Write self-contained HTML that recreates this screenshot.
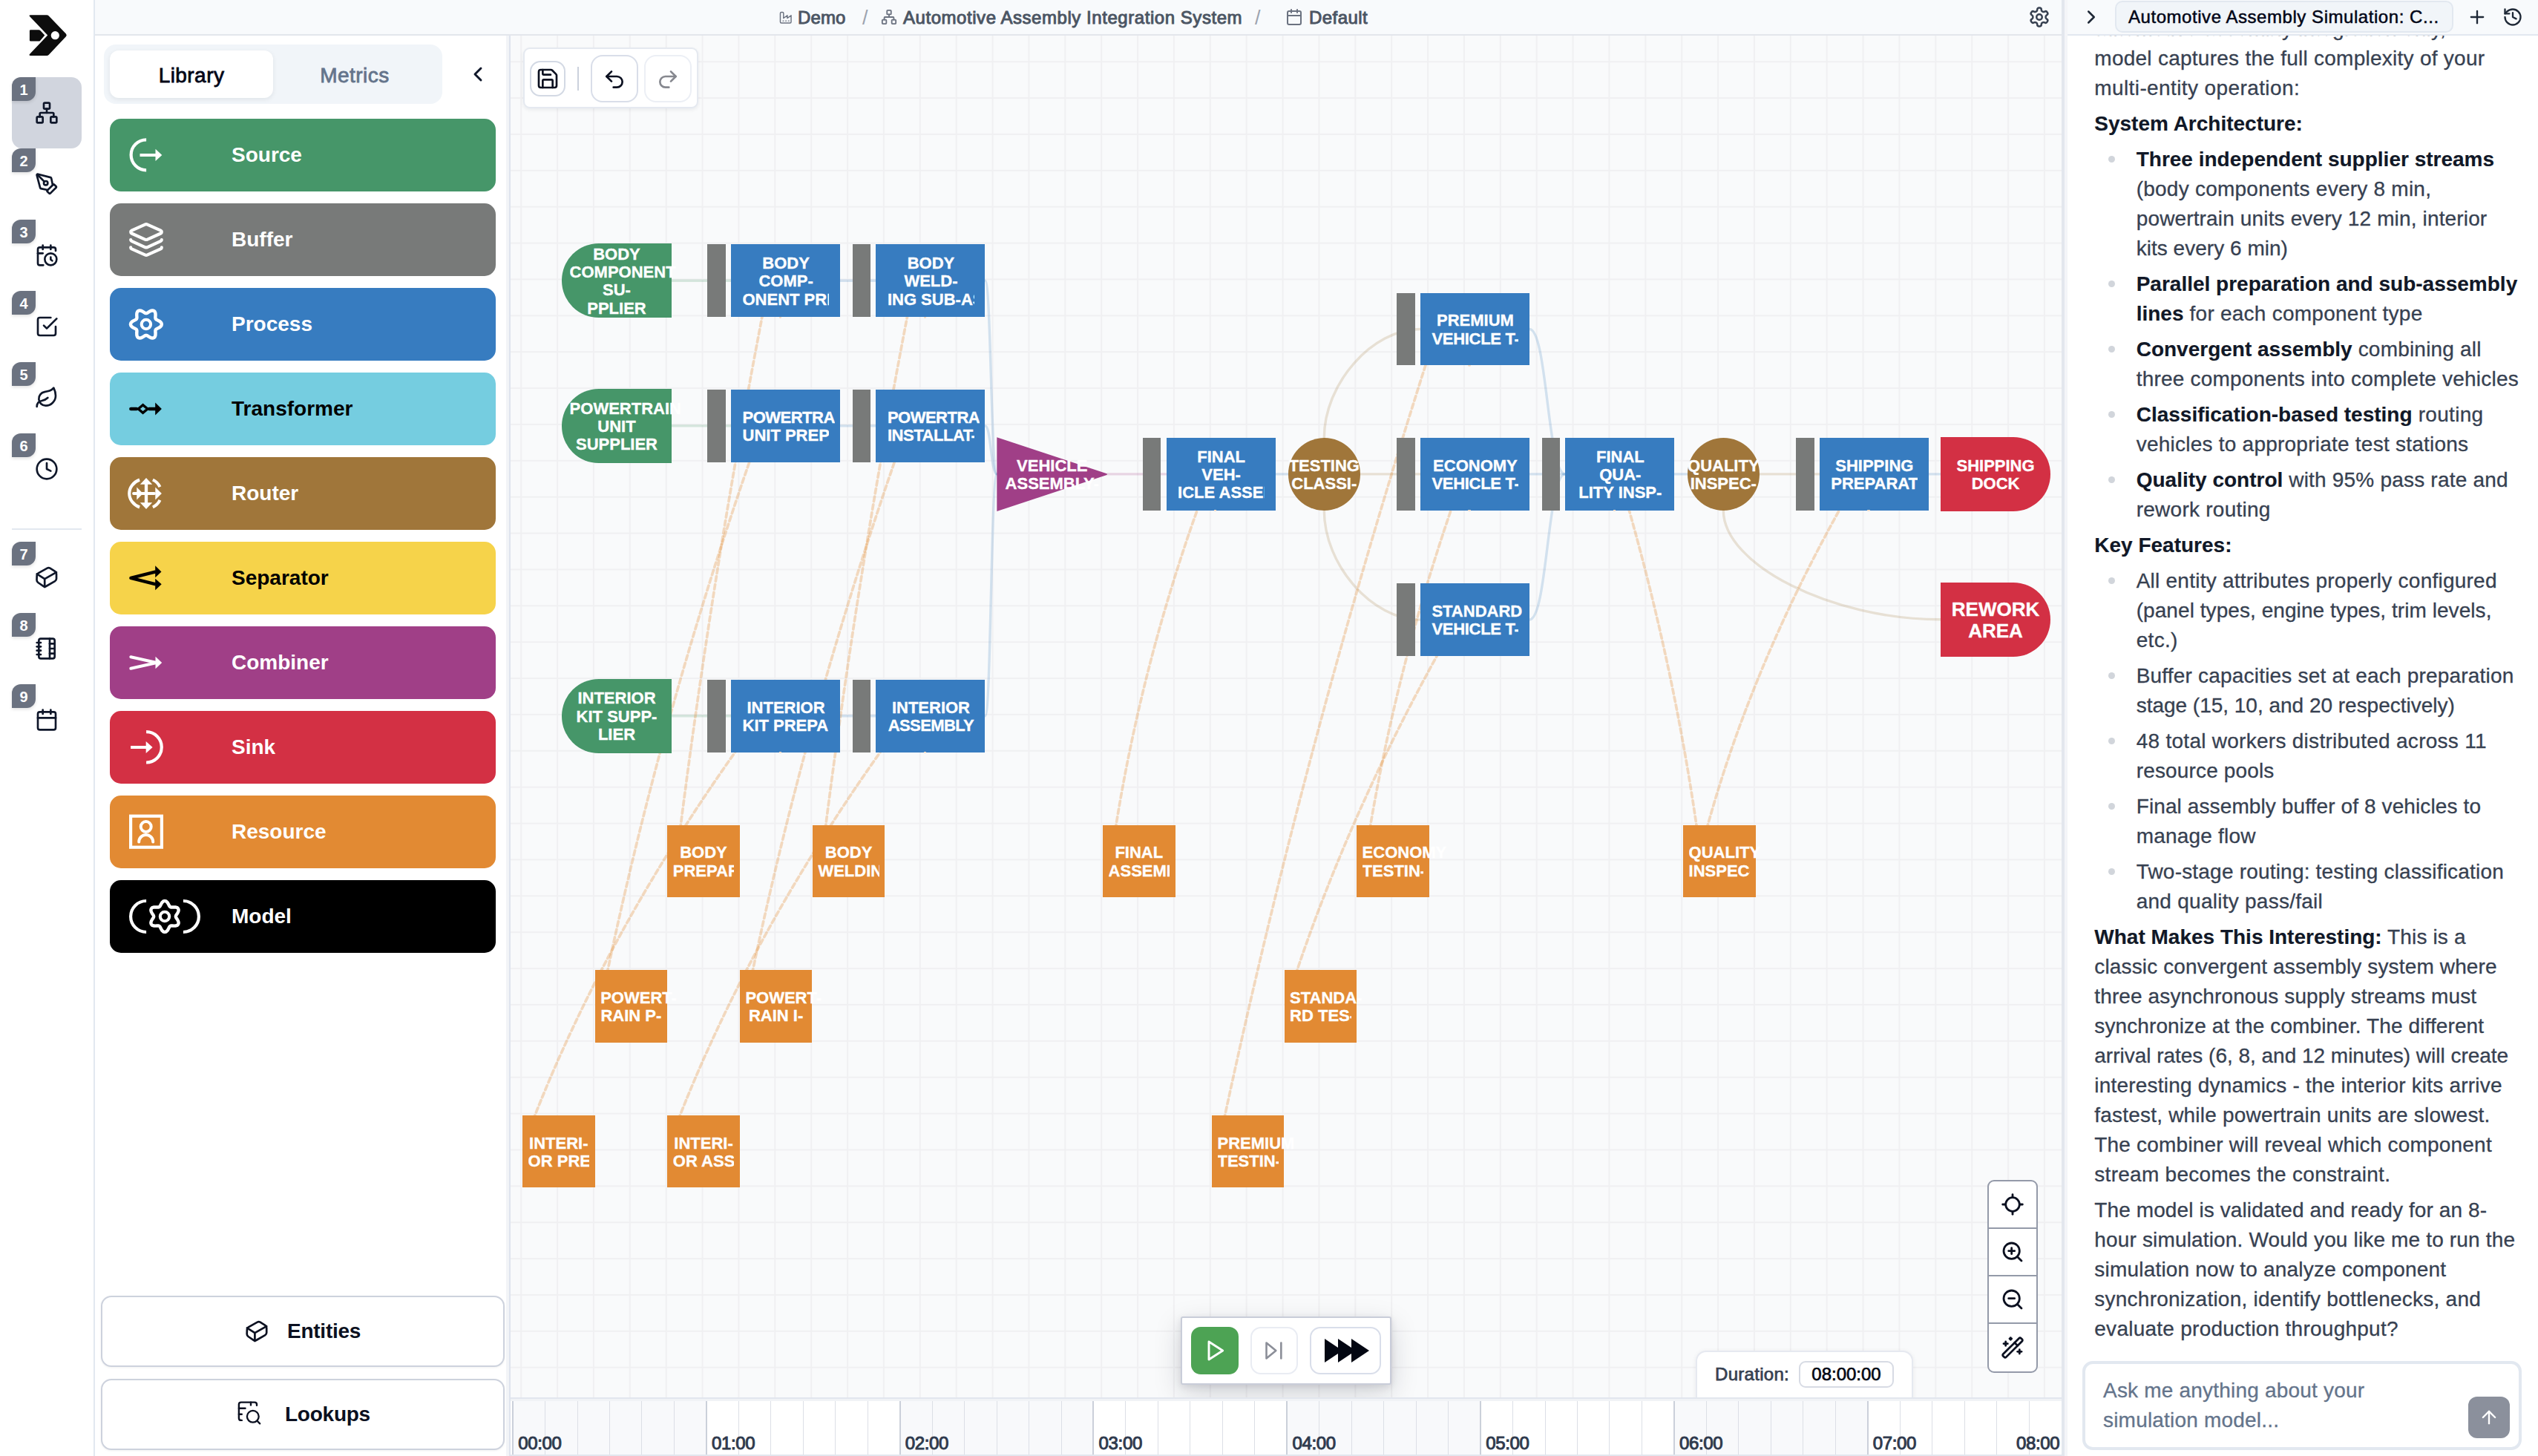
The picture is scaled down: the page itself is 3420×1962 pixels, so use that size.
<!DOCTYPE html>
<html><head><meta charset="utf-8"><title>Simulation</title>
<style>
*{box-sizing:border-box;margin:0;padding:0}
html,body{width:3420px;height:1962px;overflow:hidden;background:#fff}
body{position:relative;font-family:"Liberation Sans", sans-serif;color:#0f172a;-webkit-font-smoothing:antialiased}
.abs{position:absolute}
svg{display:block;overflow:visible}
.ic{position:absolute;fill:none;stroke:currentColor;stroke-width:2;stroke-linecap:round;stroke-linejoin:round}
#nav{position:absolute;left:0;top:0;width:128px;height:1962px;background:#fff;border-right:2px solid #e2e8f0}
.badge{position:absolute;left:16px;width:32px;height:32px;background:#6b7280;color:#fff;font-weight:bold;font-size:20px;line-height:34px;text-align:center;border-radius:12px 0 12px 0;box-shadow:0 2px 4px rgba(0,0,0,.12)}
#hdr{position:absolute;left:128px;top:0;width:3292px;height:48px;background:#f8fafc;border-bottom:2px solid #e3e6ec}
.bc{position:absolute;top:1px;height:46px;line-height:46px;font-size:24px;color:#4b5563;white-space:nowrap;-webkit-text-stroke:0.95px #4b5563}
#lib{position:absolute;left:128px;top:48px;width:556px;height:1914px;background:#fff}
.lbtn{position:absolute;left:148px;width:520px;height:98px;border-radius:15px;color:#fff;font-weight:bold;font-size:28px;line-height:98px}
.lbtn span{position:absolute;left:164px;top:0;white-space:nowrap}
.obtn{position:absolute;left:136px;width:544px;height:96px;border:2px solid #cdd2dd;border-radius:14px;background:#fff;box-shadow:0 1px 3px rgba(0,0,0,.06)}
.obtn span{position:absolute;top:0;line-height:92px;font-size:28px;font-weight:bold;color:#0b1020;white-space:nowrap;letter-spacing:-0.25px}

#cv{position:absolute;left:688px;top:48px;width:2090px;height:1835px;background-color:#f9fafb;
 background-image:linear-gradient(to right,#f0f0f2 2px,transparent 2px),linear-gradient(to bottom,#f0f0f2 2px,transparent 2px);
 background-size:48.889px 48.889px;background-position:13.20px 34.20px;overflow:hidden}
#cvi{position:absolute;left:-688px;top:-48px;width:3420px;height:1962px}
.nt{position:absolute;overflow:hidden;white-space:nowrap;color:#fff;font-weight:bold;text-align:left;-webkit-text-stroke:0.35px #fff}
.nt span{display:inline-block;text-align:center}
.tb{position:absolute;background:#fff}
.tl{position:absolute;top:1931.2px;height:28px;line-height:28px;font-size:24px;letter-spacing:-0.35px;color:#2f3a4d;-webkit-text-stroke:1px #2f3a4d;white-space:nowrap}
#chat{position:absolute;left:2786px;top:48px;width:634px;height:1914px;background:#fff;overflow:hidden}
.cl{position:absolute;height:40px;line-height:40px;font-size:28px;white-space:nowrap;color:#374151;letter-spacing:0.2px;-webkit-text-stroke:0.3px #374151}
.cl b{color:#111827;letter-spacing:0;-webkit-text-stroke:0.15px #111827}
.bul{position:absolute;left:2840.5px;width:9.4px;height:9.4px;border-radius:50%;background:#d1d5db}
</style></head>
<body>
<div id="hdr"></div>
<svg class="ic" style="left:1049.5px;top:14.5px;color:#6b7280;stroke-width:2" width="17.5" height="17.5" viewBox="0 0 24 24" ><path d="M2 20a2 2 0 0 0 2 2h16a2 2 0 0 0 2-2V8l-7 5V8l-7 5V4a2 2 0 0 0-2-2H4a2 2 0 0 0-2 2Z"/><path d="M17 18h1"/><path d="M12 18h1"/><path d="M7 18h1"/></svg>
<div class="bc" style="left:1075px;letter-spacing:0.1px">Demo</div>
<div class="bc" style="left:1162px;color:#9ca3af;-webkit-text-stroke:0;font-size:27px">/</div>
<svg class="ic" style="left:1187px;top:12px;color:#6b7280;stroke-width:2" width="22" height="22" viewBox="0 0 24 24" ><rect x="16" y="16" width="6" height="6" rx="1"/><rect x="2" y="16" width="6" height="6" rx="1"/><rect x="9" y="2" width="6" height="6" rx="1"/><path d="M5 16v-3a1 1 0 0 1 1-1h12a1 1 0 0 1 1 1v3"/><path d="M12 12V8"/></svg>
<div class="bc" style="left:1217px;letter-spacing:0.55px">Automotive Assembly Integration System</div>
<div class="bc" style="left:1691px;color:#9ca3af;-webkit-text-stroke:0;font-size:27px">/</div>
<svg class="ic" style="left:1732px;top:11px;color:#6b7280;stroke-width:2" width="24" height="24" viewBox="0 0 24 24" ><path d="M8 2v4"/><path d="M16 2v4"/><rect width="18" height="18" x="3" y="4" rx="2"/><path d="M3 10h18"/></svg>
<div class="bc" style="left:1764px;letter-spacing:0.45px">Default</div>
<svg class="ic" style="left:2733px;top:8px;color:#374151;stroke-width:2" width="30" height="30" viewBox="0 0 24 24" ><path d="M12.22 2h-.44a2 2 0 0 0-2 2v.18a2 2 0 0 1-1 1.73l-.43.25a2 2 0 0 1-2 0l-.15-.08a2 2 0 0 0-2.73.73l-.22.38a2 2 0 0 0 .73 2.73l.15.1a2 2 0 0 1 1 1.72v.51a2 2 0 0 1-1 1.74l-.15.09a2 2 0 0 0-.73 2.73l.22.38a2 2 0 0 0 2.73.73l.15-.08a2 2 0 0 1 2 0l.43.25a2 2 0 0 1 1 1.73V20a2 2 0 0 0 2 2h.44a2 2 0 0 0 2-2v-.18a2 2 0 0 1 1-1.73l.43-.25a2 2 0 0 1 2 0l.15.08a2 2 0 0 0 2.73-.73l.22-.39a2 2 0 0 0-.73-2.73l-.15-.08a2 2 0 0 1-1-1.74v-.5a2 2 0 0 1 1-1.74l.15-.09a2 2 0 0 0 .73-2.73l-.22-.38a2 2 0 0 0-2.73-.73l-.15.08a2 2 0 0 1-2 0l-.43-.25a2 2 0 0 1-1-1.73V4a2 2 0 0 0-2-2z"/><circle cx="12" cy="12" r="3"/></svg>
<div id="nav">
<svg class="abs" style="left:0;top:0" width="128" height="100" viewBox="0 0 128 100"><path d="M41.2 20.3 H63 Q64.6 20.3 65.8 21.5 L88.9 45.6 Q90.6 47.5 88.9 49.3 L65.8 73.7 Q64.6 74.9 63 74.9 H41.2 Q38.2 74.9 40.4 72.6 L64.2 47.5 L40.4 22.6 Q38.2 20.3 41.2 20.3 Z" fill="#0d0d0d"/><path d="M41.3 40.2 H52.2 Q53.4 40.2 54.2 41.1 L60.3 47.6 L54.2 54.7 Q53.4 55.6 52.2 55.6 H41.3 Q39.9 55.6 39.9 54.2 V41.6 Q39.9 40.2 41.3 40.2 Z" fill="#0d0d0d"/><circle cx="74.3" cy="47.7" r="5.6" fill="#fff"/></svg>
<div class="abs" style="left:16px;top:104px;width:94px;height:96px;border-radius:14px;background:#d1d5de"></div>
<div class="badge" style="top:104px">1</div>
<svg class="ic" style="left:47px;top:136px;color:#0f172a;stroke-width:2" width="32" height="32" viewBox="0 0 24 24" ><rect x="16" y="16" width="6" height="6" rx="1"/><rect x="2" y="16" width="6" height="6" rx="1"/><rect x="9" y="2" width="6" height="6" rx="1"/><path d="M5 16v-3a1 1 0 0 1 1-1h12a1 1 0 0 1 1 1v3"/><path d="M12 12V8"/></svg>
<div class="badge" style="top:200px">2</div>
<svg class="ic" style="left:47px;top:232px;color:#0f172a;stroke-width:2" width="32" height="32" viewBox="0 0 24 24" ><path d="M15.707 21.293a1 1 0 0 1-1.414 0l-1.586-1.586a1 1 0 0 1 0-1.414l5.586-5.586a1 1 0 0 1 1.414 0l1.586 1.586a1 1 0 0 1 0 1.414z"/><path d="m18 13-1.375-6.874a1 1 0 0 0-.746-.776L3.235 2.028a1 1 0 0 0-1.207 1.207L5.35 15.879a1 1 0 0 0 .776.746L13 18"/><path d="m2.3 2.3 7.286 7.286"/><circle cx="11" cy="11" r="2"/></svg>
<div class="badge" style="top:296px">3</div>
<svg class="ic" style="left:47px;top:328px;color:#0f172a;stroke-width:2" width="32" height="32" viewBox="0 0 24 24" ><path d="M21 7.5V6a2 2 0 0 0-2-2H5a2 2 0 0 0-2 2v14a2 2 0 0 0 2 2h3.5"/><path d="M16 2v4"/><path d="M8 2v4"/><path d="M3 10h5"/><path d="M17.5 17.5 16 16.3V14"/><circle cx="16" cy="16" r="6"/></svg>
<div class="badge" style="top:392px">4</div>
<svg class="ic" style="left:47px;top:424px;color:#0f172a;stroke-width:2" width="32" height="32" viewBox="0 0 24 24" ><path d="m9 11 3 3L22 4"/><path d="M21 12v7a2 2 0 0 1-2 2H5a2 2 0 0 1-2-2V5a2 2 0 0 1 2-2h11"/></svg>
<div class="badge" style="top:488px">5</div>
<svg class="ic" style="left:47px;top:520px;color:#0f172a;stroke-width:2" width="32" height="32" viewBox="0 0 24 24" ><path d="M11 20A7 7 0 0 1 9.8 6.1C15.5 5 17 4.48 19 2c1 2 2 4.18 2 8 0 5.5-4.78 10-10 10Z"/><path d="M2 21c0-3 1.85-5.36 5.08-6C9.5 14.52 12 13 13 12"/></svg>
<div class="badge" style="top:584px">6</div>
<svg class="ic" style="left:47px;top:616px;color:#0f172a;stroke-width:2" width="32" height="32" viewBox="0 0 24 24" ><circle cx="12" cy="12" r="10"/><polyline points="12 6 12 12 16 14"/></svg>
<div class="badge" style="top:730px">7</div>
<svg class="abs" style="left:0;top:0" width="3420" height="1962" fill="none" stroke="#0f172a" stroke-width="2.7" stroke-linecap="round" stroke-linejoin="round"><path d="M49.7 775.6 Q49.7 773.4 51.6 772.3 L63.6 765.6 Q65.5 764.5 67.4 765.7 L74.1 769.9 Q76.0 771.1 76.0 773.3 L76.0 779.8 Q76.0 782.0 74.1 783.1 L62.1 790.0 Q60.2 791.1 58.4 789.8 L51.3 785.0 Q49.5 783.7 49.5 781.5 Z"/><path d="M49.7 773.4 L60.2 780.2 L76.0 771.1 M60.2 780.2 L60.2 791.1"/></svg>
<div class="badge" style="top:826px">8</div>
<svg class="ic" style="left:47px;top:858px;color:#0f172a;stroke-width:2" width="32" height="32" viewBox="0 0 24 24" ><path d="M2 6h4"/><path d="M2 10h4"/><path d="M2 14h4"/><path d="M2 18h4"/><rect width="16" height="20" x="4" y="2" rx="2"/><path d="M15 2v20"/><path d="M15 7h5"/><path d="M15 12h5"/><path d="M15 17h5"/></svg>
<div class="badge" style="top:922px">9</div>
<svg class="ic" style="left:47px;top:954px;color:#0f172a;stroke-width:2" width="32" height="32" viewBox="0 0 24 24" ><path d="M8 2v4"/><path d="M16 2v4"/><rect width="18" height="18" x="3" y="4" rx="2"/><path d="M3 10h18"/></svg>
<div class="abs" style="left:16px;top:712px;width:94px;height:2px;background:#e2e8f0"></div>
</div>
<div id="lib"></div>
<div class="abs" style="left:140px;top:60px;width:456px;height:80px;border-radius:16px;background:#f1f5f9"></div>
<div class="abs" style="left:148px;top:68px;width:220px;height:64px;border-radius:12px;background:#fff;box-shadow:0 2px 6px rgba(15,23,42,.08)"></div>
<div class="abs" style="left:148px;top:68px;width:220px;height:64px;line-height:64px;text-align:center;font-size:28px;letter-spacing:0.45px;color:#020617;-webkit-text-stroke:0.8px #020617;padding-top:1.5px">Library</div>
<div class="abs" style="left:368px;top:68px;width:220px;height:64px;line-height:64px;text-align:center;font-size:28px;letter-spacing:0.45px;color:#64748b;-webkit-text-stroke:0.8px #64748b;padding-top:1.5px">Metrics</div>
<svg class="ic" style="left:628px;top:84px;color:#0f172a;stroke-width:2.2" width="32" height="32" viewBox="0 0 24 24" ><path d="m15 18-6-6 6-6"/></svg>
<div class="lbtn" style="top:160px;background:#469669;color:#fff"><svg class="abs" style="left:0;top:0" width="140" height="98" viewBox="0 0 140 98" fill="none" stroke="#fff" stroke-width="4.2" stroke-linecap="butt" stroke-linejoin="miter"><path d="M49.1 28.3 A20.5 20.5 0 0 0 49.1 69.3"/><path d="M40.5 49 H62.5" stroke-width="4"/><path d="M61.5 40.8 L70.3 49 L61.5 57 Z" fill="#fff" stroke="none"/></svg><span>Source</span></div>
<div class="lbtn" style="top:274px;background:#787a79;color:#fff"><svg class="abs" style="left:0;top:0" width="140" height="98" viewBox="0 0 140 98" fill="none" stroke="#fff" stroke-width="4.2" stroke-linecap="butt" stroke-linejoin="miter"><g transform="translate(24,24) scale(2.0833)" stroke-width="2" stroke-linecap="round" stroke-linejoin="round"><path d="M12.83 2.18a2 2 0 0 0-1.66 0L2.6 6.08a1 1 0 0 0 0 1.83l8.58 3.91a2 2 0 0 0 1.66 0l8.58-3.9a1 1 0 0 0 0-1.83z"/><path d="M2 12a1 1 0 0 0 .58.91l8.6 3.91a2 2 0 0 0 1.65 0l8.58-3.9A1 1 0 0 0 22 12"/><path d="M2 17a1 1 0 0 0 .58.91l8.6 3.91a2 2 0 0 0 1.65 0l8.58-3.9A1 1 0 0 0 22 17"/></g></svg><span>Buffer</span></div>
<div class="lbtn" style="top:388px;background:#377cc0;color:#fff"><svg class="abs" style="left:0;top:0" width="140" height="98" viewBox="0 0 140 98" fill="none" stroke="#fff" stroke-width="4.2" stroke-linecap="butt" stroke-linejoin="miter"><path d="M69.90 49.00 L69.41 50.79 L68.05 52.38 L66.19 53.63 L64.26 54.59 L62.69 55.43 L61.72 56.40 L61.36 57.73 L61.42 59.51 L61.56 61.66 L61.40 63.90 L60.71 65.86 L59.40 67.19 L57.60 67.66 L55.55 67.28 L53.53 66.29 L51.74 65.10 L50.23 64.16 L48.90 63.80 L47.57 64.16 L46.06 65.10 L44.27 66.29 L42.25 67.28 L40.20 67.66 L38.40 67.19 L37.09 65.86 L36.40 63.90 L36.24 61.66 L36.38 59.51 L36.44 57.73 L36.08 56.40 L35.11 55.43 L33.54 54.59 L31.61 53.63 L29.75 52.38 L28.39 50.79 L27.90 49.00 L28.39 47.21 L29.75 45.62 L31.61 44.37 L33.54 43.41 L35.11 42.57 L36.08 41.60 L36.44 40.27 L36.38 38.49 L36.24 36.34 L36.40 34.10 L37.09 32.14 L38.40 30.81 L40.20 30.34 L42.25 30.72 L44.27 31.71 L46.06 32.90 L47.57 33.84 L48.90 34.20 L50.23 33.84 L51.74 32.90 L53.53 31.71 L55.55 30.72 L57.60 30.34 L59.40 30.81 L60.71 32.14 L61.40 34.10 L61.56 36.34 L61.42 38.49 L61.36 40.27 L61.72 41.60 L62.69 42.57 L64.26 43.41 L66.19 44.37 L68.05 45.62 L69.41 47.21 Z" stroke-width="4.4" stroke-linejoin="round"/><circle cx="48.9" cy="49" r="6.2" stroke-width="4.1"/></svg><span>Process</span></div>
<div class="lbtn" style="top:502px;background:#75cde0;color:#000"><svg class="abs" style="left:0;top:0" width="140" height="98" viewBox="0 0 140 98" fill="none" stroke="#000" stroke-width="4.2" stroke-linecap="butt" stroke-linejoin="miter"><path d="M28.4 49 H36 M53 49 H62" stroke-width="4.6" stroke-linecap="round"/><path d="M38.3 49 L44.6 43.7 L50.9 49 L44.6 54.3 Z" stroke-width="3.4" stroke-linejoin="miter"/><path d="M61.2 40.6 L69.9 49 L61.2 57.4 Z" fill="#000" stroke="none"/></svg><span>Transformer</span></div>
<div class="lbtn" style="top:616px;background:#a0763a;color:#fff"><svg class="abs" style="left:0;top:0" width="140" height="98" viewBox="0 0 140 98" fill="none" stroke="#fff" stroke-width="4.2" stroke-linecap="butt" stroke-linejoin="miter"><g transform="translate(49,49)"><path d="M-8.9 -18.5 A22.8 20.1 0 0 0 -8.9 18.5" stroke-width="4.1"/><path d="M8.9 -18.5 A20.5 20.5 0 0 1 18.5 -8.9" stroke-width="4.1"/><path d="M18.5 8.9 A20.5 20.5 0 0 1 8.9 18.5" stroke-width="4.1"/><path d="M0 -13 V13" stroke-width="4.3"/><path d="M-17 0 H11" stroke-width="3.8" stroke-linecap="round"/><path d="M-8.2 -12.3 L0 -20.9 L8.2 -12.3 Z M-8.2 12.3 L0 20.9 L8.2 12.3 Z M12.3 -8.5 L20.9 0 L12.3 8.5 Z M-12.7 -8.5 L-4.3 0 L-12.7 8.5 Z" fill="#fff" stroke="none"/></g></svg><span>Router</span></div>
<div class="lbtn" style="top:730px;background:#f6d34a;color:#000"><svg class="abs" style="left:0;top:0" width="140" height="98" viewBox="0 0 140 98" fill="none" stroke="#000" stroke-width="4.2" stroke-linecap="butt" stroke-linejoin="miter"><path d="M62 40.4 L28.3 48.9 L62 57.4" stroke-width="4.3" stroke-linejoin="round"/><path d="M61.2 32.3 L69.5 40.5 L61.2 48.3 Z M61.2 49.7 L69.7 57.3 L61.2 65.2 Z" fill="#000" stroke="none"/></svg><span>Separator</span></div>
<div class="lbtn" style="top:844px;background:#a03f87;color:#fff"><svg class="abs" style="left:0;top:0" width="140" height="98" viewBox="0 0 140 98" fill="none" stroke="#fff" stroke-width="4.2" stroke-linecap="butt" stroke-linejoin="miter"><path d="M28.3 41.2 L63 49 L28.3 56.8" stroke-width="4" stroke-linecap="round" stroke-linejoin="miter"/><path d="M61.5 40.8 L70.2 49 L61.5 57.2 Z" fill="#fff" stroke="none"/></svg><span>Combiner</span></div>
<div class="lbtn" style="top:958px;background:#d33044;color:#fff"><svg class="abs" style="left:0;top:0" width="140" height="98" viewBox="0 0 140 98" fill="none" stroke="#fff" stroke-width="4.2" stroke-linecap="butt" stroke-linejoin="miter"><path d="M49.1 28.1 A20.7 20.7 0 0 1 49.1 69.5"/><path d="M28.1 49 H50" stroke-width="4"/><path d="M48.7 41 L57.6 49 L48.7 57 Z" fill="#fff" stroke="none"/></svg><span>Sink</span></div>
<div class="lbtn" style="top:1072px;background:#e28a33;color:#fff"><svg class="abs" style="left:0;top:0" width="140" height="98" viewBox="0 0 140 98" fill="none" stroke="#fff" stroke-width="4.2" stroke-linecap="butt" stroke-linejoin="miter"><rect x="28.1" y="27.7" width="41.8" height="42" stroke-width="4.2"/><circle cx="48.7" cy="42" r="7" stroke-width="4"/><path d="M39.2 62.5 A9.5 9.5 0 0 1 58.2 62.5" stroke-width="4" stroke-linecap="round"/></svg><span>Resource</span></div>
<div class="lbtn" style="top:1186px;background:#000;color:#fff"><svg class="abs" style="left:0;top:0" width="140" height="98" viewBox="0 0 140 98" fill="none" stroke="#fff" stroke-width="4.2" stroke-linecap="butt" stroke-linejoin="miter"><path d="M49.1 28 A21 21 0 0 0 49.1 70"/><path d="M98.9 28 A21 21 0 0 1 98.9 70"/><path d="M88.80 49.00 L89.16 50.33 L90.10 51.84 L91.29 53.63 L92.28 55.65 L92.66 57.70 L92.19 59.50 L90.86 60.81 L88.90 61.50 L86.66 61.66 L84.51 61.52 L82.73 61.46 L81.40 61.82 L80.43 62.79 L79.59 64.36 L78.63 66.29 L77.38 68.15 L75.79 69.51 L74.00 70.00 L72.21 69.51 L70.62 68.15 L69.37 66.29 L68.41 64.36 L67.57 62.79 L66.60 61.82 L65.27 61.46 L63.49 61.52 L61.34 61.66 L59.10 61.50 L57.14 60.81 L55.81 59.50 L55.34 57.70 L55.72 55.65 L56.71 53.63 L57.90 51.84 L58.84 50.33 L59.20 49.00 L58.84 47.67 L57.90 46.16 L56.71 44.37 L55.72 42.35 L55.34 40.30 L55.81 38.50 L57.14 37.19 L59.10 36.50 L61.34 36.34 L63.49 36.48 L65.27 36.54 L66.60 36.18 L67.57 35.21 L68.41 33.64 L69.37 31.71 L70.62 29.85 L72.21 28.49 L74.00 28.00 L75.79 28.49 L77.38 29.85 L78.63 31.71 L79.59 33.64 L80.43 35.21 L81.40 36.18 L82.73 36.54 L84.51 36.48 L86.66 36.34 L88.90 36.50 L90.86 37.19 L92.19 38.50 L92.66 40.30 L92.28 42.35 L91.29 44.37 L90.10 46.16 L89.16 47.67 Z" stroke-width="4.4" stroke-linejoin="round"/><circle cx="74" cy="49" r="6.2" stroke-width="4.1"/></svg><span>Model</span></div>
<div class="obtn" style="top:1746px"><span style="left:249px">Entities</span></div>
<svg class="abs" style="left:0;top:0" width="3420" height="1962" fill="none" stroke="#0b1020" stroke-width="2.7" stroke-linecap="round" stroke-linejoin="round"><path d="M332.9 1791.6 Q332.9 1789.4 334.8 1788.3 L346.8 1781.6 Q348.7 1780.5 350.6 1781.7 L357.3 1785.9 Q359.2 1787.1 359.2 1789.3 L359.2 1795.8 Q359.2 1798.0 357.3 1799.1 L345.3 1806.0 Q343.4 1807.1 341.6 1805.8 L334.5 1801.0 Q332.7 1799.7 332.7 1797.5 Z"/><path d="M332.9 1789.4 L343.4 1796.2 L359.2 1787.1 M343.4 1796.2 L343.4 1807.1"/></svg>
<div class="obtn" style="top:1858px"><span style="left:246px">Lookups</span></div>
<svg class="abs" style="left:0;top:0" width="3420" height="1962" fill="none" stroke="#0b1020" stroke-width="2.4" stroke-linecap="round" stroke-linejoin="round"><path d="M346 1893.8 V1892.6 Q346 1889.6 343 1889.6 H324.9 Q321.9 1889.6 321.9 1892.6 V1910.9 Q321.9 1913.9 324.9 1913.9 H325.8"/><path d="M338 1889.6 V1893.4"/><path d="M321.9 1897.7 H330.5"/><path d="M321.9 1905.7 H325.8"/><circle cx="340.8" cy="1908.8" r="7.9" stroke-width="2.3"/><path d="M346.7 1914.9 L350.2 1918.4" stroke-width="2.3"/></svg>
<div class="abs" style="left:682.3px;top:48px;width:3.7px;height:1914px;background:#f2f4f7"></div>
<div class="abs" style="left:686px;top:48px;width:2px;height:1914px;background:#dfe4ee"></div>
<div id="cv"><div id="cvi">
<svg class="abs" style="left:0;top:0" width="3420" height="1962"><g fill="none" stroke-width="3.4" stroke-linecap="round"><path d="M905.1 378.2 C945.0 378.2 945.0 378.2 984.9 378.2" stroke="#469669" stroke-opacity="0.2"/><path d="M1132.1 378.2 C1156.2 378.2 1156.2 378.2 1180.3 378.2" stroke="#377cc0" stroke-opacity="0.2"/><path d="M1327.6 378.2 C1335.4 378.2 1335.4 638.9 1343.3 638.9" stroke="#377cc0" stroke-opacity="0.2"/><path d="M905.1 573.9 C945.0 573.9 945.0 573.9 984.9 573.9" stroke="#469669" stroke-opacity="0.2"/><path d="M1132.1 573.9 C1156.2 573.9 1156.2 573.9 1180.3 573.9" stroke="#377cc0" stroke-opacity="0.2"/><path d="M1327.6 573.9 C1335.4 573.9 1335.4 638.9 1343.3 638.9" stroke="#377cc0" stroke-opacity="0.2"/><path d="M905.1 964.8 C945.0 964.8 945.0 964.8 984.9 964.8" stroke="#469669" stroke-opacity="0.2"/><path d="M1132.1 964.8 C1156.2 964.8 1156.2 964.8 1180.3 964.8" stroke="#377cc0" stroke-opacity="0.2"/><path d="M1327.6 964.8 C1335.4 964.8 1335.4 638.9 1343.3 638.9" stroke="#377cc0" stroke-opacity="0.2"/><path d="M1492.2 638.9 C1531.8 638.9 1531.8 638.9 1571.5 638.9" stroke="#a03f87" stroke-opacity="0.2"/><path d="M1718.9 638.9 C1727.2 638.9 1727.2 638.9 1735.6 638.9" stroke="#377cc0" stroke-opacity="0.2"/><path d="M1833.0 638.9 C1873.4 638.9 1873.4 638.9 1913.8 638.9" stroke="#a0763a" stroke-opacity="0.2"/><path d="M1784.3 590.1 C1784.3 516.8 1849.0 443.5 1913.8 443.5" stroke="#a0763a" stroke-opacity="0.2"/><path d="M1784.3 687.7 C1784.3 761.4 1849.0 835.1 1913.8 835.1" stroke="#a0763a" stroke-opacity="0.2"/><path d="M2061.0 443.5 C2085.1 443.5 2085.1 638.9 2109.2 638.9" stroke="#377cc0" stroke-opacity="0.2"/><path d="M2061.0 638.9 C2085.1 638.9 2085.1 638.9 2109.2 638.9" stroke="#377cc0" stroke-opacity="0.2"/><path d="M2061.0 835.1 C2085.1 835.1 2085.1 638.9 2109.2 638.9" stroke="#377cc0" stroke-opacity="0.2"/><path d="M2256.6 638.9 C2265.0 638.9 2265.0 638.9 2273.4 638.9" stroke="#377cc0" stroke-opacity="0.2"/><path d="M2371.2 638.9 C2411.4 638.9 2411.4 638.9 2451.7 638.9" stroke="#a0763a" stroke-opacity="0.2"/><path d="M2322.3 687.7 C2322.3 761.2 2468.6 834.8 2614.8 834.8" stroke="#a0763a" stroke-opacity="0.2"/><path d="M2599.0 638.9 C2606.9 638.9 2606.9 638.9 2614.8 638.9" stroke="#377cc0" stroke-opacity="0.2"/></g><g fill="none" stroke="#e28a33" stroke-opacity="0.3" stroke-width="3.7" stroke-linecap="round" stroke-dasharray="6.6 4.3"><path d="M916.5 1117.7 L917.3 1111.7 Q961.1 768.5 1026.9 427.3 L1028.8 417.3"/><path d="M1112.0 1117.7 L1112.8 1111.7 Q1156.6 768.5 1222.4 427.3 L1224.3 417.3"/><path d="M817.9 1312.0 L819.2 1306.0 Q891.5 964.9 1009.8 622.6 L1013.3 612.6"/><path d="M1013.4 1312.0 L1014.7 1306.0 Q1087.0 964.9 1205.3 622.6 L1208.8 612.6"/><path d="M718.4 1509.0 L720.8 1503.0 Q817.5 1258.5 990.3 1014.0 L997.4 1004.0"/><path d="M913.9 1509.0 L916.3 1503.0 Q1013.0 1258.5 1185.8 1014.0 L1192.9 1004.0"/><path d="M1502.9 1118.0 L1503.9 1112.0 Q1538.4 898.0 1613.0 688.0 L1616.6 678.0"/><path d="M1845.7 1118.0 L1846.7 1112.0 Q1883.2 898.0 1955.0 688.0 L1958.4 678.0"/><path d="M1745.9 1313.3 L1747.9 1307.3 Q1819.8 1094.7 1936.5 883.4 L1942.0 873.4"/><path d="M1649.3 1509.0 L1650.6 1503.0 Q1759.6 997.5 1921.0 492.0 L1924.2 482.0"/><path d="M2286.8 1117.3 L2285.9 1111.3 Q2255.3 900.2 2195.5 688.4 L2192.7 678.4"/><path d="M2299.7 1117.3 L2301.4 1111.3 Q2360.3 900.2 2478.0 688.4 L2483.6 678.4"/></g></svg>
<div class="abs" style="left:756.9px;top:328.4px;width:148.2px;height:99.5px;background:#469669;border-radius:49.8px 0 0 49.8px"></div><div class="nt" style="left:767.6px;top:330.6px;width:400.0px;height:24.4px;line-height:24.4px;font-size:22px;"><span style="min-width:126.8px">BODY</span></div>
<div class="nt" style="left:767.6px;top:354.9px;width:400.0px;height:24.4px;line-height:24.4px;font-size:22px;"><span style="min-width:126.8px">COMPONENT</span></div>
<div class="nt" style="left:767.6px;top:379.4px;width:400.0px;height:24.4px;line-height:24.4px;font-size:22px;"><span style="min-width:126.8px">SU-</span></div>
<div class="nt" style="left:767.6px;top:403.8px;width:400.0px;height:24.4px;line-height:24.4px;font-size:22px;"><span style="min-width:126.8px">PPLIER</span></div>
<div class="abs" style="left:756.9px;top:524.1px;width:148.2px;height:99.5px;background:#469669;border-radius:49.8px 0 0 49.8px"></div><div class="nt" style="left:767.6px;top:538.5px;width:400.0px;height:24.4px;line-height:24.4px;font-size:22px;"><span style="min-width:126.8px">POWERTRAIN</span></div>
<div class="nt" style="left:767.6px;top:562.9px;width:400.0px;height:24.4px;line-height:24.4px;font-size:22px;"><span style="min-width:126.8px">UNIT</span></div>
<div class="nt" style="left:767.6px;top:587.2px;width:400.0px;height:24.4px;line-height:24.4px;font-size:22px;"><span style="min-width:126.8px">SUPPLIER</span></div>
<div class="abs" style="left:756.9px;top:915.0px;width:148.2px;height:99.5px;background:#469669;border-radius:49.8px 0 0 49.8px"></div><div class="nt" style="left:767.6px;top:929.4px;width:400.0px;height:24.4px;line-height:24.4px;font-size:22px;"><span style="min-width:126.8px">INTERIOR</span></div>
<div class="nt" style="left:767.6px;top:953.8px;width:400.0px;height:24.4px;line-height:24.4px;font-size:22px;"><span style="min-width:126.8px">KIT SUPP-</span></div>
<div class="nt" style="left:767.6px;top:978.1px;width:400.0px;height:24.4px;line-height:24.4px;font-size:22px;"><span style="min-width:126.8px">LIER</span></div>
<div class="abs" style="left:953.3px;top:329.3px;width:24.5px;height:97.7px;background:#787a79;"></div><div class="abs" style="left:984.9px;top:329.3px;width:147.2px;height:97.7px;background:#377cc0;"></div><div class="nt" style="left:1000.5px;top:342.8px;width:124.1px;height:24.4px;line-height:24.4px;font-size:22px;"><span style="min-width:117.1px">BODY</span></div>
<div class="nt" style="left:1000.5px;top:367.2px;width:124.1px;height:24.4px;line-height:24.4px;font-size:22px;"><span style="min-width:117.1px">COMP-</span></div>
<div class="nt" style="left:1000.5px;top:391.6px;width:116.8px;height:24.4px;line-height:24.4px;font-size:22px;"><span style="min-width:117.1px">ONENT PREP</span></div><div class="abs" style="left:1049.5px;top:426.6px;width:3.4px;height:2.2px;border-radius:0 0 2px 2px;background:#f5dcc4"></div>
<div class="abs" style="left:1148.7px;top:329.3px;width:24.5px;height:97.7px;background:#787a79;"></div><div class="abs" style="left:1180.3px;top:329.3px;width:147.2px;height:97.7px;background:#377cc0;"></div><div class="nt" style="left:1195.9px;top:342.8px;width:124.1px;height:24.4px;line-height:24.4px;font-size:22px;"><span style="min-width:117.1px">BODY</span></div>
<div class="nt" style="left:1195.9px;top:367.2px;width:124.1px;height:24.4px;line-height:24.4px;font-size:22px;"><span style="min-width:117.1px">WELD-</span></div>
<div class="nt" style="left:1195.9px;top:391.6px;width:116.8px;height:24.4px;line-height:24.4px;font-size:22px;"><span style="min-width:117.1px">ING SUB-AS</span></div><div class="abs" style="left:1244.9px;top:426.6px;width:3.4px;height:2.2px;border-radius:0 0 2px 2px;background:#f5dcc4"></div>
<div class="abs" style="left:953.3px;top:525.0px;width:24.5px;height:97.7px;background:#787a79;"></div><div class="abs" style="left:984.9px;top:525.0px;width:147.2px;height:97.7px;background:#377cc0;"></div><div class="nt" style="left:1000.5px;top:550.7px;width:124.1px;height:24.4px;line-height:24.4px;font-size:22px;letter-spacing:-0.5px;"><span style="min-width:117.1px">POWERTRAIN</span></div>
<div class="nt" style="left:1000.5px;top:575.1px;width:116.8px;height:24.4px;line-height:24.4px;font-size:22px;"><span style="min-width:117.1px">UNIT PREP</span></div>
<div class="abs" style="left:1148.7px;top:525.0px;width:24.5px;height:97.7px;background:#787a79;"></div><div class="abs" style="left:1180.3px;top:525.0px;width:147.2px;height:97.7px;background:#377cc0;"></div><div class="nt" style="left:1195.9px;top:550.7px;width:124.1px;height:24.4px;line-height:24.4px;font-size:22px;letter-spacing:-0.5px;"><span style="min-width:117.1px">POWERTRAIN</span></div>
<div class="nt" style="left:1195.9px;top:575.1px;width:116.8px;height:24.4px;line-height:24.4px;font-size:22px;letter-spacing:-0.46px;"><span style="min-width:117.1px">INSTALLAT<span style="display:inline;margin-left:-2.2px">-</span></span></div>
<div class="abs" style="left:953.3px;top:915.9px;width:24.5px;height:97.7px;background:#787a79;"></div><div class="abs" style="left:984.9px;top:915.9px;width:147.2px;height:97.7px;background:#377cc0;"></div><div class="nt" style="left:1000.5px;top:941.6px;width:124.1px;height:24.4px;line-height:24.4px;font-size:22px;"><span style="min-width:117.1px">INTERIOR</span></div>
<div class="nt" style="left:1000.5px;top:966.0px;width:116.8px;height:24.4px;line-height:24.4px;font-size:22px;"><span style="min-width:117.1px">KIT PREPAR</span></div><div class="abs" style="left:1049.5px;top:1013.2px;width:3.4px;height:2.2px;border-radius:0 0 2px 2px;background:#f5dcc4"></div>
<div class="abs" style="left:1148.7px;top:915.9px;width:24.5px;height:97.7px;background:#787a79;"></div><div class="abs" style="left:1180.3px;top:915.9px;width:147.2px;height:97.7px;background:#377cc0;"></div><div class="nt" style="left:1195.9px;top:941.6px;width:124.1px;height:24.4px;line-height:24.4px;font-size:22px;"><span style="min-width:117.1px">INTERIOR</span></div>
<div class="nt" style="left:1195.9px;top:966.0px;width:116.8px;height:24.4px;line-height:24.4px;font-size:22px;letter-spacing:-0.62px;"><span style="min-width:117.1px">ASSEMBLY</span></div><div class="abs" style="left:1244.9px;top:1013.2px;width:3.4px;height:2.2px;border-radius:0 0 2px 2px;background:#f5dcc4"></div>
<svg class="abs" style="left:0;top:0" width="3420" height="1962"><path d="M1343.3 589.2 L1490.7 637.9 Q1493.2 639.1 1490.7 640.3000000000001 L1343.3 689.0 Z" fill="#a03f87"/></svg><div class="nt" style="left:1333.3px;top:615.9px;width:400.0px;height:24.4px;line-height:24.4px;font-size:22px;"><span style="min-width:168.9px">VEHICLE</span></div>
<div class="nt" style="left:1333.3px;top:640.3px;width:400.0px;height:24.4px;line-height:24.4px;font-size:22px;"><span style="min-width:168.9px">ASSEMBLY-</span></div>
<div class="abs" style="left:1539.9px;top:590.0px;width:24.5px;height:97.7px;background:#787a79;"></div><div class="abs" style="left:1571.5px;top:590.0px;width:147.2px;height:97.7px;background:#377cc0;"></div><div class="nt" style="left:1587.1px;top:603.5px;width:124.1px;height:24.4px;line-height:24.4px;font-size:22px;"><span style="min-width:117.1px">FINAL</span></div>
<div class="nt" style="left:1587.1px;top:627.9px;width:124.1px;height:24.4px;line-height:24.4px;font-size:22px;"><span style="min-width:117.1px">VEH-</span></div>
<div class="nt" style="left:1587.1px;top:652.2px;width:116.8px;height:24.4px;line-height:24.4px;font-size:22px;"><span style="min-width:117.1px">ICLE ASSEM</span></div><div class="abs" style="left:1636.1px;top:687.3px;width:3.4px;height:2.2px;border-radius:0 0 2px 2px;background:#f5dcc4"></div>
<div class="abs" style="left:1735.5px;top:590.1px;width:97.6px;height:97.6px;background:#a0763a;border-radius:50%"></div><div class="nt" style="left:1725.5px;top:615.7px;width:400.0px;height:24.4px;line-height:24.4px;font-size:22px;"><span style="min-width:117.6px">TESTING</span></div>
<div class="nt" style="left:1725.5px;top:640.1px;width:400.0px;height:24.4px;line-height:24.4px;font-size:22px;"><span style="min-width:117.6px">CLASSI-</span></div>
<div class="abs" style="left:1882.2px;top:394.6px;width:24.5px;height:97.7px;background:#787a79;"></div><div class="abs" style="left:1913.8px;top:394.6px;width:147.2px;height:97.7px;background:#377cc0;"></div><div class="nt" style="left:1929.4px;top:420.3px;width:124.1px;height:24.4px;line-height:24.4px;font-size:22px;"><span style="min-width:117.1px">PREMIUM</span></div>
<div class="nt" style="left:1929.4px;top:444.7px;width:116.8px;height:24.4px;line-height:24.4px;font-size:22px;letter-spacing:-0.3px;"><span style="min-width:117.1px">VEHICLE T-</span></div><div class="abs" style="left:1978.4px;top:491.9px;width:3.4px;height:2.2px;border-radius:0 0 2px 2px;background:#f5dcc4"></div>
<div class="abs" style="left:1882.2px;top:590.0px;width:24.5px;height:97.7px;background:#787a79;"></div><div class="abs" style="left:1913.8px;top:590.0px;width:147.2px;height:97.7px;background:#377cc0;"></div><div class="nt" style="left:1929.4px;top:615.7px;width:124.1px;height:24.4px;line-height:24.4px;font-size:22px;"><span style="min-width:117.1px">ECONOMY</span></div>
<div class="nt" style="left:1929.4px;top:640.1px;width:116.8px;height:24.4px;line-height:24.4px;font-size:22px;letter-spacing:-0.3px;"><span style="min-width:117.1px">VEHICLE T-</span></div><div class="abs" style="left:1978.4px;top:687.3px;width:3.4px;height:2.2px;border-radius:0 0 2px 2px;background:#f5dcc4"></div>
<div class="abs" style="left:1882.2px;top:786.2px;width:24.5px;height:97.7px;background:#787a79;"></div><div class="abs" style="left:1913.8px;top:786.2px;width:147.2px;height:97.7px;background:#377cc0;"></div><div class="nt" style="left:1929.4px;top:811.9px;width:124.1px;height:24.4px;line-height:24.4px;font-size:22px;"><span style="min-width:117.1px">STANDARD</span></div>
<div class="nt" style="left:1929.4px;top:836.3px;width:116.8px;height:24.4px;line-height:24.4px;font-size:22px;letter-spacing:-0.3px;"><span style="min-width:117.1px">VEHICLE T-</span></div>
<div class="abs" style="left:2077.6px;top:590.0px;width:24.5px;height:97.7px;background:#787a79;"></div><div class="abs" style="left:2109.2px;top:590.0px;width:147.2px;height:97.7px;background:#377cc0;"></div><div class="nt" style="left:2124.8px;top:603.5px;width:124.1px;height:24.4px;line-height:24.4px;font-size:22px;"><span style="min-width:117.1px">FINAL</span></div>
<div class="nt" style="left:2124.8px;top:627.9px;width:124.1px;height:24.4px;line-height:24.4px;font-size:22px;"><span style="min-width:117.1px">QUA-</span></div>
<div class="nt" style="left:2124.8px;top:652.2px;width:116.8px;height:24.4px;line-height:24.4px;font-size:22px;"><span style="min-width:117.1px">LITY INSP-</span></div><div class="abs" style="left:2173.8px;top:687.3px;width:3.4px;height:2.2px;border-radius:0 0 2px 2px;background:#f5dcc4"></div>
<div class="abs" style="left:2273.5px;top:590.1px;width:97.6px;height:97.6px;background:#a0763a;border-radius:50%"></div><div class="nt" style="left:2263.5px;top:615.7px;width:400.0px;height:24.4px;line-height:24.4px;font-size:22px;"><span style="min-width:117.6px">QUALITY</span></div>
<div class="nt" style="left:2263.5px;top:640.1px;width:400.0px;height:24.4px;line-height:24.4px;font-size:22px;"><span style="min-width:117.6px">INSPEC-</span></div>
<div class="abs" style="left:2420.1px;top:590.0px;width:24.5px;height:97.7px;background:#787a79;"></div><div class="abs" style="left:2451.7px;top:590.0px;width:147.2px;height:97.7px;background:#377cc0;"></div><div class="nt" style="left:2467.3px;top:615.7px;width:124.1px;height:24.4px;line-height:24.4px;font-size:22px;"><span style="min-width:117.1px">SHIPPING</span></div>
<div class="nt" style="left:2467.3px;top:640.1px;width:116.8px;height:24.4px;line-height:24.4px;font-size:22px;"><span style="min-width:117.1px">PREPARATI</span></div><div class="abs" style="left:2516.3px;top:687.3px;width:3.4px;height:2.2px;border-radius:0 0 2px 2px;background:#f5dcc4"></div>
<div class="abs" style="left:2614.8px;top:588.8px;width:148.5px;height:100.0px;background:#d33044;border-radius:0 50.0px 50.0px 0"></div><div class="nt" style="left:2625.5px;top:615.6px;width:400.0px;height:24.4px;line-height:24.4px;font-size:22px;"><span style="min-width:127.1px">SHIPPING</span></div>
<div class="nt" style="left:2625.5px;top:640.0px;width:400.0px;height:24.4px;line-height:24.4px;font-size:22px;"><span style="min-width:127.1px">DOCK</span></div>
<div class="abs" style="left:2614.8px;top:785.2px;width:148.5px;height:100.0px;background:#d33044;border-radius:0 50.0px 50.0px 0"></div><div class="nt" style="left:2625.5px;top:807.3px;width:400.0px;height:29.1px;line-height:29.1px;font-size:26px;"><span style="min-width:127.1px">REWORK</span></div>
<div class="nt" style="left:2625.5px;top:836.4px;width:400.0px;height:29.1px;line-height:29.1px;font-size:26px;"><span style="min-width:127.1px">AREA</span></div>
<div class="abs" style="left:899.2px;top:1111.6px;width:97.6px;height:97.6px;background:#e28a33;"></div><div class="nt" style="left:906.8px;top:1137.2px;width:400.0px;height:24.4px;line-height:24.4px;font-size:22px;"><span style="min-width:82.4px">BODY</span></div>
<div class="nt" style="left:906.8px;top:1161.6px;width:82.5px;height:24.4px;line-height:24.4px;font-size:22px;"><span style="min-width:82.4px">PREPAR</span></div>
<div class="abs" style="left:1094.8px;top:1111.6px;width:97.6px;height:97.6px;background:#e28a33;"></div><div class="nt" style="left:1102.4px;top:1137.2px;width:400.0px;height:24.4px;line-height:24.4px;font-size:22px;"><span style="min-width:82.4px">BODY</span></div>
<div class="nt" style="left:1102.4px;top:1161.6px;width:82.5px;height:24.4px;line-height:24.4px;font-size:22px;"><span style="min-width:82.4px">WELDIN</span></div>
<div class="abs" style="left:1486.0px;top:1111.6px;width:97.6px;height:97.6px;background:#e28a33;"></div><div class="nt" style="left:1493.6px;top:1137.2px;width:400.0px;height:24.4px;line-height:24.4px;font-size:22px;"><span style="min-width:82.4px">FINAL</span></div>
<div class="nt" style="left:1493.6px;top:1161.6px;width:82.5px;height:24.4px;line-height:24.4px;font-size:22px;"><span style="min-width:82.4px">ASSEMB</span></div>
<div class="abs" style="left:1828.0px;top:1111.6px;width:97.6px;height:97.6px;background:#e28a33;"></div><div class="nt" style="left:1835.6px;top:1137.2px;width:400.0px;height:24.4px;line-height:24.4px;font-size:22px;"><span style="min-width:82.4px">ECONOMY</span></div>
<div class="nt" style="left:1835.6px;top:1161.6px;width:82.5px;height:24.4px;line-height:24.4px;font-size:22px;"><span style="min-width:82.4px">TESTIN-</span></div>
<div class="abs" style="left:2268.0px;top:1111.6px;width:97.6px;height:97.6px;background:#e28a33;"></div><div class="nt" style="left:2275.6px;top:1137.2px;width:400.0px;height:24.4px;line-height:24.4px;font-size:22px;"><span style="min-width:82.4px">QUALITY</span></div>
<div class="nt" style="left:2275.6px;top:1161.6px;width:82.5px;height:24.4px;line-height:24.4px;font-size:22px;"><span style="min-width:82.4px">INSPEC-</span></div>
<div class="abs" style="left:801.6px;top:1307.3px;width:97.6px;height:97.6px;background:#e28a33;"></div><div class="nt" style="left:809.2px;top:1332.9px;width:400.0px;height:24.4px;line-height:24.4px;font-size:22px;"><span style="min-width:82.4px">POWERT-</span></div>
<div class="nt" style="left:809.2px;top:1357.3px;width:82.5px;height:24.4px;line-height:24.4px;font-size:22px;"><span style="min-width:82.4px">RAIN P-</span></div>
<div class="abs" style="left:996.8px;top:1307.3px;width:97.6px;height:97.6px;background:#e28a33;"></div><div class="nt" style="left:1004.4px;top:1332.9px;width:400.0px;height:24.4px;line-height:24.4px;font-size:22px;"><span style="min-width:82.4px">POWERT-</span></div>
<div class="nt" style="left:1004.4px;top:1357.3px;width:82.5px;height:24.4px;line-height:24.4px;font-size:22px;"><span style="min-width:82.4px">RAIN I-</span></div>
<div class="abs" style="left:1730.5px;top:1307.3px;width:97.6px;height:97.6px;background:#e28a33;"></div><div class="nt" style="left:1738.1px;top:1332.9px;width:400.0px;height:24.4px;line-height:24.4px;font-size:22px;"><span style="min-width:82.4px">STANDA-</span></div>
<div class="nt" style="left:1738.1px;top:1357.3px;width:82.5px;height:24.4px;line-height:24.4px;font-size:22px;"><span style="min-width:82.4px">RD TES-</span></div>
<div class="abs" style="left:704.0px;top:1502.9px;width:97.6px;height:97.6px;background:#e28a33;"></div><div class="nt" style="left:711.6px;top:1528.5px;width:400.0px;height:24.4px;line-height:24.4px;font-size:22px;"><span style="min-width:82.4px">INTERI-</span></div>
<div class="nt" style="left:711.6px;top:1552.9px;width:82.5px;height:24.4px;line-height:24.4px;font-size:22px;"><span style="min-width:82.4px">OR PREP</span></div>
<div class="abs" style="left:899.2px;top:1502.9px;width:97.6px;height:97.6px;background:#e28a33;"></div><div class="nt" style="left:906.8px;top:1528.5px;width:400.0px;height:24.4px;line-height:24.4px;font-size:22px;"><span style="min-width:82.4px">INTERI-</span></div>
<div class="nt" style="left:906.8px;top:1552.9px;width:82.5px;height:24.4px;line-height:24.4px;font-size:22px;"><span style="min-width:82.4px">OR ASSE</span></div>
<div class="abs" style="left:1632.9px;top:1502.9px;width:97.6px;height:97.6px;background:#e28a33;"></div><div class="nt" style="left:1640.5px;top:1528.5px;width:400.0px;height:24.4px;line-height:24.4px;font-size:22px;"><span style="min-width:82.4px">PREMIUM</span></div>
<div class="nt" style="left:1640.5px;top:1552.9px;width:82.5px;height:24.4px;line-height:24.4px;font-size:22px;"><span style="min-width:82.4px">TESTIN-</span></div>
<div class="tb" style="left:704.5px;top:64.4px;width:236.3px;height:81.8px;border:2px solid #e5e9f0;border-radius:9px;box-shadow:0 2px 5px rgba(15,23,42,.07)"></div>
<div class="tb" style="left:714px;top:82px;width:48px;height:48px;border:2px solid #d3d9e4;border-radius:14px"></div>
<svg class="ic" style="left:722px;top:90px;color:#0b1020;stroke-width:2" width="32" height="32" viewBox="0 0 24 24" ><path d="M15.2 3a2 2 0 0 1 1.4.6l3.8 3.8a2 2 0 0 1 .6 1.4V19a2 2 0 0 1-2 2H5a2 2 0 0 1-2-2V5a2 2 0 0 1 2-2z"/><path d="M17 21v-7a1 1 0 0 0-1-1H8a1 1 0 0 0-1 1v7"/><path d="M7 3v4a1 1 0 0 0 1 1h7"/></svg>
<div class="abs" style="left:778px;top:90px;width:2px;height:32px;background:#cbd1dc"></div>
<div class="tb" style="left:796px;top:74px;width:64px;height:64px;border:2px solid #d9dee9;border-radius:16px"></div>
<svg class="ic" style="left:812px;top:90.5px;color:#0b1020;stroke-width:2" width="32" height="32" viewBox="0 0 24 24" ><path d="M9 14 4 9l5-5"/><path d="M4 9h10.5a5.5 5.5 0 0 1 5.5 5.5a5.5 5.5 0 0 1-5.5 5.5H11"/></svg>
<div class="tb" style="left:868px;top:74px;width:64px;height:64px;border:2px solid #eceff5;border-radius:16px"></div>
<svg class="ic" style="left:884px;top:90.5px;color:#86888f;stroke-width:2" width="32" height="32" viewBox="0 0 24 24" ><path d="m15 14 5-5-5-5"/><path d="M20 9H9.5A5.5 5.5 0 0 0 4 14.5A5.5 5.5 0 0 0 9.5 20H13"/></svg>
<div class="tb" style="left:1591px;top:1774px;width:284px;height:92px;border:2px solid #c9cdd9;border-radius:3px;box-shadow:0 12px 36px rgba(15,23,42,.17),0 3px 10px rgba(15,23,42,.10)"></div>
<div class="abs" style="left:1605px;top:1788px;width:64px;height:64px;border-radius:13px;background:#4da354"></div>
<svg class="ic" style="left:1621px;top:1804px;color:#fff;stroke-width:2.2" width="32" height="32" viewBox="0 0 24 24" ><polygon points="6 3 20 12 6 21 6 3"/></svg>
<div class="tb" style="left:1685px;top:1788px;width:64px;height:64px;border:2px solid #e9ecf3;border-radius:14px"></div>
<svg class="ic" style="left:1703px;top:1806px;color:#8b8e98;stroke-width:2.2" width="28" height="28" viewBox="0 0 24 24"><polygon points="3,3 14,12 3,21"/><line x1="20" y1="3" x2="20" y2="21"/></svg>
<div class="tb" style="left:1765px;top:1788px;width:96px;height:64px;border:2px solid #d9deea;border-radius:14px"></div>
<svg class="abs" style="left:1785px;top:1804px" width="62" height="32" viewBox="0 0 62 32"><path d="M0 0 L24 16 L0 32 Z M18 0 L42 16 L18 32 Z M36 0 L60 16 L36 32 Z" fill="#030712"/></svg>
<div class="tb" style="left:2285px;top:1819.8px;width:292.5px;height:72px;border:2px solid #e6e9f0;border-radius:14px 14px 0 0;box-shadow:0 1px 6px rgba(15,23,42,.07)"></div>
<div class="abs" style="left:2311px;top:1834px;height:36px;line-height:36px;font-size:24px;letter-spacing:0.3px;color:#374151;-webkit-text-stroke:0.75px #374151">Duration:</div>
<div class="tb" style="left:2424px;top:1834px;width:128px;height:36px;border:2px solid #d7dbe4;border-radius:9px;line-height:32px;text-align:center;font-size:24px;color:#030712;-webkit-text-stroke:0.65px #030712">08:00:00</div>
<div class="tb" style="left:2678px;top:1590.3px;width:68px;height:259.5px;border:2.4px solid #949aa9;border-radius:9px"></div>
<div class="abs" style="left:2680px;top:1654px;width:64px;height:2px;background:#949aa9"></div>
<div class="abs" style="left:2680px;top:1718px;width:64px;height:2px;background:#949aa9"></div>
<div class="abs" style="left:2680px;top:1782px;width:64px;height:2px;background:#949aa9"></div>
<svg class="ic" style="left:2696px;top:1607px;color:#0b1020;stroke-width:2.1" width="32" height="32" viewBox="0 0 24 24" ><line x1="2" x2="5" y1="12" y2="12"/><line x1="19" x2="22" y1="12" y2="12"/><line x1="12" x2="12" y1="2" y2="5"/><line x1="12" x2="12" y1="19" y2="22"/><circle cx="12" cy="12" r="7"/></svg>
<svg class="ic" style="left:2696px;top:1671px;color:#0b1020;stroke-width:2.1" width="32" height="32" viewBox="0 0 24 24" ><circle cx="11" cy="11" r="8"/><line x1="21" x2="16.65" y1="21" y2="16.65"/><line x1="11" x2="11" y1="8" y2="14"/><line x1="8" x2="14" y1="11" y2="11"/></svg>
<svg class="ic" style="left:2696px;top:1735px;color:#0b1020;stroke-width:2.1" width="32" height="32" viewBox="0 0 24 24" ><circle cx="11" cy="11" r="8"/><line x1="21" x2="16.65" y1="21" y2="16.65"/><line x1="8" x2="14" y1="11" y2="11"/></svg>
<svg class="ic" style="left:2696px;top:1800px;color:#0b1020;stroke-width:2.1" width="32" height="32" viewBox="0 0 24 24" ><path d="m21.64 3.64-1.28-1.28a1.21 1.21 0 0 0-1.72 0L2.36 18.64a1.21 1.21 0 0 0 0 1.72l1.28 1.28a1.2 1.2 0 0 0 1.72 0L21.64 5.36a1.2 1.2 0 0 0 0-1.72"/><path d="m14 7 3 3"/><path d="M5 6v4"/><path d="M19 14v4"/><path d="M10 2v2"/><path d="M7 8H3"/><path d="M21 16h-4"/><path d="M11 3H9"/></svg>
</div></div>
<div class="abs" style="left:688px;top:1883px;width:2090px;height:2px;background:#e2e6ee"></div>
<div class="abs" style="left:688px;top:1885px;width:2090px;height:3px;background:#f1f3f6"></div>
<div class="abs" style="left:688px;top:1888px;width:2090px;height:72px;background:#fff"></div>
<div class="abs" style="left:690.6px;top:1888px;width:260.8px;height:72px;background:#f8f9fb"></div>
<div class="abs" style="left:734px;top:1888px;width:1px;height:72px;background:#dcdfe6"></div>
<div class="abs" style="left:778px;top:1888px;width:1px;height:72px;background:#dcdfe6"></div>
<div class="abs" style="left:821px;top:1888px;width:1px;height:72px;background:#dcdfe6"></div>
<div class="abs" style="left:864px;top:1888px;width:1px;height:72px;background:#dcdfe6"></div>
<div class="abs" style="left:908px;top:1888px;width:1px;height:72px;background:#dcdfe6"></div>
<div class="abs" style="left:690px;top:1888px;width:2px;height:72px;background:#cbd0da"></div>
<div class="tl" style="left:698.2px">00:00</div>
<div class="abs" style="left:995px;top:1888px;width:1px;height:72px;background:#dcdfe6"></div>
<div class="abs" style="left:1038px;top:1888px;width:1px;height:72px;background:#dcdfe6"></div>
<div class="abs" style="left:1082px;top:1888px;width:1px;height:72px;background:#dcdfe6"></div>
<div class="abs" style="left:1125px;top:1888px;width:1px;height:72px;background:#dcdfe6"></div>
<div class="abs" style="left:1169px;top:1888px;width:1px;height:72px;background:#dcdfe6"></div>
<div class="abs" style="left:951px;top:1888px;width:2px;height:72px;background:#cbd0da"></div>
<div class="tl" style="left:959.0px">01:00</div>
<div class="abs" style="left:1212.2px;top:1888px;width:260.8px;height:72px;background:#f8f9fb"></div>
<div class="abs" style="left:1256px;top:1888px;width:1px;height:72px;background:#dcdfe6"></div>
<div class="abs" style="left:1299px;top:1888px;width:1px;height:72px;background:#dcdfe6"></div>
<div class="abs" style="left:1343px;top:1888px;width:1px;height:72px;background:#dcdfe6"></div>
<div class="abs" style="left:1386px;top:1888px;width:1px;height:72px;background:#dcdfe6"></div>
<div class="abs" style="left:1430px;top:1888px;width:1px;height:72px;background:#dcdfe6"></div>
<div class="abs" style="left:1212px;top:1888px;width:2px;height:72px;background:#cbd0da"></div>
<div class="tl" style="left:1219.8px">02:00</div>
<div class="abs" style="left:1516px;top:1888px;width:1px;height:72px;background:#dcdfe6"></div>
<div class="abs" style="left:1560px;top:1888px;width:1px;height:72px;background:#dcdfe6"></div>
<div class="abs" style="left:1603px;top:1888px;width:1px;height:72px;background:#dcdfe6"></div>
<div class="abs" style="left:1647px;top:1888px;width:1px;height:72px;background:#dcdfe6"></div>
<div class="abs" style="left:1690px;top:1888px;width:1px;height:72px;background:#dcdfe6"></div>
<div class="abs" style="left:1472px;top:1888px;width:2px;height:72px;background:#cbd0da"></div>
<div class="tl" style="left:1480.6px">03:00</div>
<div class="abs" style="left:1733.8px;top:1888px;width:260.8px;height:72px;background:#f8f9fb"></div>
<div class="abs" style="left:1777px;top:1888px;width:1px;height:72px;background:#dcdfe6"></div>
<div class="abs" style="left:1821px;top:1888px;width:1px;height:72px;background:#dcdfe6"></div>
<div class="abs" style="left:1864px;top:1888px;width:1px;height:72px;background:#dcdfe6"></div>
<div class="abs" style="left:1908px;top:1888px;width:1px;height:72px;background:#dcdfe6"></div>
<div class="abs" style="left:1951px;top:1888px;width:1px;height:72px;background:#dcdfe6"></div>
<div class="abs" style="left:1733px;top:1888px;width:2px;height:72px;background:#cbd0da"></div>
<div class="tl" style="left:1741.4px">04:00</div>
<div class="abs" style="left:2038px;top:1888px;width:1px;height:72px;background:#dcdfe6"></div>
<div class="abs" style="left:2082px;top:1888px;width:1px;height:72px;background:#dcdfe6"></div>
<div class="abs" style="left:2125px;top:1888px;width:1px;height:72px;background:#dcdfe6"></div>
<div class="abs" style="left:2168px;top:1888px;width:1px;height:72px;background:#dcdfe6"></div>
<div class="abs" style="left:2212px;top:1888px;width:1px;height:72px;background:#dcdfe6"></div>
<div class="abs" style="left:1994px;top:1888px;width:2px;height:72px;background:#cbd0da"></div>
<div class="tl" style="left:2002.2px">05:00</div>
<div class="abs" style="left:2255.4px;top:1888px;width:260.8px;height:72px;background:#f8f9fb"></div>
<div class="abs" style="left:2299px;top:1888px;width:1px;height:72px;background:#dcdfe6"></div>
<div class="abs" style="left:2342px;top:1888px;width:1px;height:72px;background:#dcdfe6"></div>
<div class="abs" style="left:2386px;top:1888px;width:1px;height:72px;background:#dcdfe6"></div>
<div class="abs" style="left:2429px;top:1888px;width:1px;height:72px;background:#dcdfe6"></div>
<div class="abs" style="left:2473px;top:1888px;width:1px;height:72px;background:#dcdfe6"></div>
<div class="abs" style="left:2255px;top:1888px;width:2px;height:72px;background:#cbd0da"></div>
<div class="tl" style="left:2263.0px">06:00</div>
<div class="abs" style="left:2560px;top:1888px;width:1px;height:72px;background:#dcdfe6"></div>
<div class="abs" style="left:2603px;top:1888px;width:1px;height:72px;background:#dcdfe6"></div>
<div class="abs" style="left:2647px;top:1888px;width:1px;height:72px;background:#dcdfe6"></div>
<div class="abs" style="left:2690px;top:1888px;width:1px;height:72px;background:#dcdfe6"></div>
<div class="abs" style="left:2734px;top:1888px;width:1px;height:72px;background:#dcdfe6"></div>
<div class="abs" style="left:2516px;top:1888px;width:2px;height:72px;background:#cbd0da"></div>
<div class="tl" style="left:2523.8px">07:00</div>
<div class="tl" style="left:2717.0px">08:00</div>
<div class="abs" style="left:688px;top:1960px;width:2090px;height:2px;background:#e2e6ee"></div>
<div id="chat"></div>
<div class="cl" style="left:2822.3px;top:19.3px">automotive assembly integration only,</div>
<div class="cl" style="left:2822.3px;top:59.3px;letter-spacing:0.259px">model captures the full complexity of your</div>
<div class="cl" style="left:2822.3px;top:99.0px;letter-spacing:0.396px">multi-entity operation:</div>
<div class="cl" style="left:2822.3px;top:147.0px;letter-spacing:0.281px"><b>System Architecture:</b></div>
<div class="cl" style="left:2878.7px;top:195.0px"><b>Three independent supplier streams</b></div>
<div class="bul" style="top:209.7px"></div>
<div class="cl" style="left:2878.7px;top:235.0px;letter-spacing:0.237px">(body components every 8 min,</div>
<div class="cl" style="left:2878.7px;top:275.0px;letter-spacing:0.148px">powertrain units every 12 min, interior</div>
<div class="cl" style="left:2878.7px;top:315.0px;letter-spacing:0.024px">kits every 6 min)</div>
<div class="cl" style="left:2878.7px;top:363.0px"><b>Parallel preparation and sub-assembly</b></div>
<div class="bul" style="top:377.7px"></div>
<div class="cl" style="left:2878.7px;top:403.0px;letter-spacing:0.249px"><b>lines</b> for each component type</div>
<div class="cl" style="left:2878.7px;top:451.0px"><b>Convergent assembly</b> combining all</div>
<div class="bul" style="top:465.7px"></div>
<div class="cl" style="left:2878.7px;top:491.0px">three components into complete vehicles</div>
<div class="cl" style="left:2878.7px;top:539.0px;letter-spacing:0.312px"><b>Classification-based testing</b> routing</div>
<div class="bul" style="top:553.7px"></div>
<div class="cl" style="left:2878.7px;top:579.0px;letter-spacing:0.235px">vehicles to appropriate test stations</div>
<div class="cl" style="left:2878.7px;top:627.0px"><b>Quality control</b> with 95% pass rate and</div>
<div class="bul" style="top:641.7px"></div>
<div class="cl" style="left:2878.7px;top:667.0px;letter-spacing:0.253px">rework routing</div>
<div class="cl" style="left:2822.3px;top:715.0px;letter-spacing:0.240px"><b>Key Features:</b></div>
<div class="cl" style="left:2878.7px;top:763.0px;letter-spacing:0.239px">All entity attributes properly configured</div>
<div class="bul" style="top:777.7px"></div>
<div class="cl" style="left:2878.7px;top:803.0px;letter-spacing:0.065px">(panel types, engine types, trim levels,</div>
<div class="cl" style="left:2878.7px;top:843.0px;letter-spacing:0.299px">etc.)</div>
<div class="cl" style="left:2878.7px;top:891.0px">Buffer capacities set at each preparation</div>
<div class="bul" style="top:905.7px"></div>
<div class="cl" style="left:2878.7px;top:931.0px;letter-spacing:-0.016px">stage (15, 10, and 20 respectively)</div>
<div class="cl" style="left:2878.7px;top:979.0px;letter-spacing:0.274px">48 total workers distributed across 11</div>
<div class="bul" style="top:993.7px"></div>
<div class="cl" style="left:2878.7px;top:1019.0px;letter-spacing:0.156px">resource pools</div>
<div class="cl" style="left:2878.7px;top:1067.0px;letter-spacing:0.111px">Final assembly buffer of 8 vehicles to</div>
<div class="bul" style="top:1081.7px"></div>
<div class="cl" style="left:2878.7px;top:1107.0px">manage flow</div>
<div class="cl" style="left:2878.7px;top:1155.0px">Two-stage routing: testing classification</div>
<div class="bul" style="top:1169.7px"></div>
<div class="cl" style="left:2878.7px;top:1195.0px;letter-spacing:0.258px">and quality pass/fail</div>
<div class="cl" style="left:2822.3px;top:1243.0px;letter-spacing:0.141px"><b>What Makes This Interesting:</b> This is a</div>
<div class="cl" style="left:2822.3px;top:1283.0px;letter-spacing:0.139px">classic convergent assembly system where</div>
<div class="cl" style="left:2822.3px;top:1323.0px;letter-spacing:0.119px">three asynchronous supply streams must</div>
<div class="cl" style="left:2822.3px;top:1363.0px;letter-spacing:0.106px">synchronize at the combiner. The different</div>
<div class="cl" style="left:2822.3px;top:1403.0px;letter-spacing:-0.018px">arrival rates (6, 8, and 12 minutes) will create</div>
<div class="cl" style="left:2822.3px;top:1443.0px">interesting dynamics - the interior kits arrive</div>
<div class="cl" style="left:2822.3px;top:1483.0px">fastest, while powertrain units are slowest.</div>
<div class="cl" style="left:2822.3px;top:1523.0px">The combiner will reveal which component</div>
<div class="cl" style="left:2822.3px;top:1563.0px;letter-spacing:0.277px">stream becomes the constraint.</div>
<div class="cl" style="left:2822.3px;top:1611.0px;letter-spacing:0.103px">The model is validated and ready for an 8-</div>
<div class="cl" style="left:2822.3px;top:1651.0px;letter-spacing:0.157px">hour simulation. Would you like me to run the</div>
<div class="cl" style="left:2822.3px;top:1691.0px">simulation now to analyze component</div>
<div class="cl" style="left:2822.3px;top:1731.0px;letter-spacing:0.244px">synchronization, identify bottlenecks, and</div>
<div class="cl" style="left:2822.3px;top:1771.0px;letter-spacing:0.254px">evaluate production throughput?</div>
<div class="abs" style="left:2786px;top:0;width:634px;height:46px;background:#f8fafc"></div>
<div class="abs" style="left:2786px;top:46px;width:634px;height:2px;background:#e2e8f0"></div>
<svg class="ic" style="left:2803px;top:8px;color:#1f2937;stroke-width:2" width="30" height="30" viewBox="0 0 24 24" ><path d="m9 18 6-6-6-6"/></svg>
<div class="abs" style="left:2850px;top:1px;width:456px;height:43px;border:2px solid #e2e8f0;border-radius:10px;background:#f1f5f9"></div>
<div class="abs" style="left:2868px;top:1px;height:44px;line-height:44px;font-size:24px;letter-spacing:0.55px;color:#020617;white-space:nowrap;-webkit-text-stroke:0.5px #020617">Automotive Assembly Simulation: C...</div>
<svg class="ic" style="left:3324px;top:9px;color:#1f2937;stroke-width:2" width="28" height="28" viewBox="0 0 24 24" ><path d="M5 12h14"/><path d="M12 5v14"/></svg>
<svg class="ic" style="left:3372px;top:9px;color:#1f2937;stroke-width:2" width="28" height="28" viewBox="0 0 24 24" ><path d="M3 12a9 9 0 1 0 9-9 9.75 9.75 0 0 0-6.74 2.74L3 8"/><path d="M3 3v5h5"/><path d="M12 7v5l4 2"/></svg>
<div class="abs" style="left:2778px;top:0;width:4.2px;height:1962px;background:#e3e7ee"></div>
<div class="abs" style="left:2782.2px;top:0;width:3.8px;height:1962px;background:#f4f5f8"></div>
<div class="abs" style="left:2806px;top:1834px;width:592px;height:120px;border:4px solid #e2e8f0;border-radius:14px;background:#fff"></div>
<div class="cl" style="left:2834px;top:1854.3px;color:#64748b;-webkit-text-stroke:0.3px #64748b">Ask me anything about your</div>
<div class="cl" style="left:2834px;top:1894.3px;color:#64748b;-webkit-text-stroke:0.3px #64748b">simulation model...</div>
<div class="abs" style="left:3326px;top:1882px;width:56px;height:56px;border-radius:12px;background:#8b909c"></div>
<svg class="ic" style="left:3340px;top:1896px;color:#fff;stroke-width:2" width="28" height="28" viewBox="0 0 24 24" ><path d="m5 12 7-7 7 7"/><path d="M12 19V5"/></svg>
</body></html>
